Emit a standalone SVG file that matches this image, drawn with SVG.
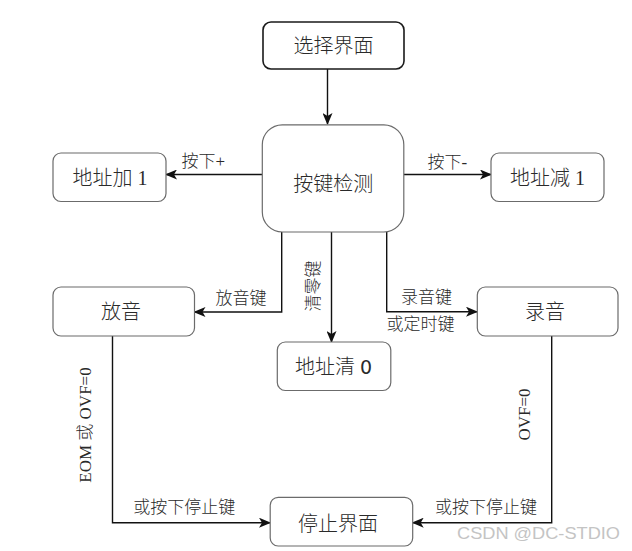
<svg xmlns="http://www.w3.org/2000/svg" width="632" height="551" viewBox="0 0 632 551">
<style>
  .box { fill: #ffffff; stroke: #6b6b6b; stroke-width: 1.2; }
  .box-strong { fill: #ffffff; stroke: #1a1a1a; stroke-width: 1.6; }
  .lbl { font-family: "Liberation Serif", "Noto Sans CJK SC", serif; font-size: 20px; fill: #2a2a2a; text-anchor: middle; font-weight: 300; }
  .edge { font-family: "Liberation Serif", "Noto Sans CJK SC", serif; font-size: 17px; fill: #2a2a2a; font-weight: 300; }
  .sans0 { font-family: "DejaVu Sans", sans-serif; font-size: 19px; font-weight: normal; }
  .conn { fill: none; stroke: #111111; stroke-width: 1.4; }
  .wm { font-family: "Liberation Sans", "DejaVu Sans", sans-serif; font-size: 17px; fill: #c4c4c4; }
</style>
<defs>
  <marker id="arr" markerWidth="12" markerHeight="10" viewBox="0 0 12 10" refX="11" refY="5" orient="auto" markerUnits="userSpaceOnUse">
    <path d="M0,0 L12,5 L0,10 L3,5 Z" fill="#111111"/>
  </marker>
</defs>
<rect width="632" height="551" fill="#ffffff"/>

<g id="connectors">
  <path class="conn" d="M327.5,69 L327.5,124" marker-end="url(#arr)"/>
  <path class="conn" d="M262,174.5 L166,174.5" marker-end="url(#arr)"/>
  <path class="conn" d="M403.5,174.5 L491,174.5" marker-end="url(#arr)"/>
  <path class="conn" d="M281.7,232 L281.7,312 L194.5,312" marker-end="url(#arr)"/>
  <path class="conn" d="M331.5,232 L331.5,342" marker-end="url(#arr)"/>
  <path class="conn" d="M386.7,232 L386.7,311.7 L477,311.7" marker-end="url(#arr)"/>
  <path class="conn" d="M112.5,336 L112.5,522.7 L270,522.7" marker-end="url(#arr)"/>
  <path class="conn" d="M551.7,336 L551.7,522.7 L412.7,522.7" marker-end="url(#arr)"/>
  <text class="edge" x="181.5" y="167">按下+</text>
  <text class="edge" x="427.5" y="168">按下-</text>
  <text class="edge" x="215.5" y="304">放音键</text>
  <text class="edge" x="401" y="303">录音键</text>
  <text class="edge" x="386.5" y="330">或定时键</text>
  <text class="edge" text-anchor="middle" transform="translate(318.5,286) rotate(-90)">清零键</text>
  <text class="edge" text-anchor="middle" transform="translate(91,425) rotate(-90)">EOM 或 OVF=0</text>
  <text class="edge" text-anchor="middle" transform="translate(529.5,414.5) rotate(-90)">OVF=0</text>
  <text class="edge" x="133.3" y="513">或按下停止键</text>
  <text class="edge" x="435" y="513">或按下停止键</text>
</g>

<g id="node-select">
  <rect class="box-strong" x="263" y="22" width="141" height="47" rx="8"/>
  <text class="lbl" x="333.5" y="53">选择界面</text>
</g>
<g id="node-keycheck">
  <rect class="box" x="262.3" y="124.8" width="141.5" height="107.2" rx="20"/>
  <text class="lbl" x="333.3" y="191">按键检测</text>
</g>
<g id="node-addr-inc">
  <rect class="box" x="53" y="153" width="113" height="48.5" rx="8"/>
  <text class="lbl" x="110" y="185">地址加 1</text>
</g>
<g id="node-addr-dec">
  <rect class="box" x="491" y="153" width="113" height="48.5" rx="8"/>
  <text class="lbl" x="547.5" y="185">地址减 1</text>
</g>
<g id="node-play">
  <rect class="box" x="53" y="287" width="141.5" height="49" rx="8"/>
  <text class="lbl" x="121" y="319">放音</text>
</g>
<g id="node-record">
  <rect class="box" x="477.3" y="287" width="140.7" height="49" rx="8"/>
  <text class="lbl" x="545" y="319">录音</text>
</g>
<g id="node-addr-clear">
  <rect class="box" x="277.3" y="342" width="113.5" height="48.5" rx="8"/>
  <text class="lbl" x="333.5" y="374">地址清 <tspan class="sans0">0</tspan></text>
</g>
<g id="node-stop">
  <rect class="box" x="270.2" y="497.3" width="142.5" height="48.7" rx="8"/>
  <text class="lbl" x="338" y="531">停止界面</text>
</g>

<text class="wm" x="457" y="539" textLength="163" lengthAdjust="spacingAndGlyphs">CSDN @DC-STDIO</text>
</svg>
